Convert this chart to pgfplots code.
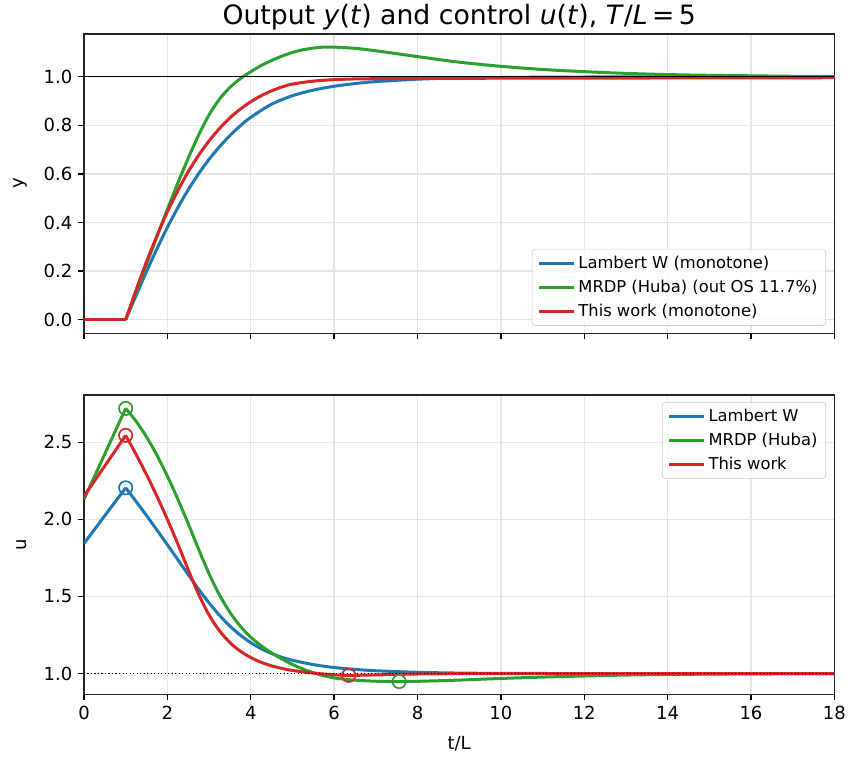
\documentclass[border=0pt]{standalone}
\usepackage{fontspec}
\setmainfont{DejaVu Sans}
\usepackage{pgfplots}
\pgfplotsset{compat=1.18}
\definecolor{tabblue}{HTML}{1F77B4}
\definecolor{tabgreen}{HTML}{2CA02C}
\definecolor{tabred}{HTML}{D62728}
\newcommand{\tickfont}{\fontsize{10.8pt}{12.5pt}\selectfont}
\newcommand{\legfont}{\fontsize{9.8pt}{11.5pt}\selectfont}

\pgfplotsset{
  panel/.style={
    scale only axis, width=450.2pt, height=179.6pt,
    xmin=0, xmax=18, xtick={0,2,...,18},
    tick pos=left, tick align=outside,
    major tick length=3.5pt,
    every tick/.style={black, line width=0.8pt},
    axis line style={line width=0.8pt, black!85},
    grid=major, grid style={black!10, line width=0.8pt},
    tick label style={font=\tickfont},
    label style={font=\tickfont},
    ylabel style={xshift=0pt, yshift=3pt},
    xlabel style={yshift=-3pt},
    /pgf/number format/assume math mode=true,
    legend cell align=left,
    legend image code/.code={\draw[#1] (0pt,0pt) -- (21pt,0pt);},
    legend style={font=\legfont, draw=black!20, rounded corners=2pt,
      fill=white, fill opacity=0.8, text opacity=1,
      inner xsep=3pt, inner ysep=2pt, row sep=1.5pt},
  },
  curve/.style={line width=1.8pt, line join=round, #1},
  dot/.style={only marks, mark=o, mark size=4pt, forget plot,
    mark options={line width=1pt, #1}},
}

\begin{document}
\begin{tikzpicture}
\useasboundingbox (-50.4pt,-257.8pt) rectangle (459.6pt,200pt);

% top panel: output y
\begin{axis}[panel, at={(0pt,0pt)}, anchor=south west,
    ymin=-0.056, ymax=1.176, ytick={0,0.2,...,1.0},
    yticklabel style={/pgf/number format/.cd, fixed, fixed zerofill, precision=1},
    xticklabels={},
    ylabel={y},
    title={Output \textit{y}(\textit{t}) and control \textit{u}(\textit{t}), \textit{T}/\textit{L}\,=\,5},
    title style={font=\fontsize{16pt}{19pt}\selectfont, yshift=-7pt},
    legend style={at={(0.989,0.025)}, anchor=south east}]
  \addplot[curve=tabblue, smooth] coordinates {
    (1,0) (1.25,0.1) (1.5,0.198) (1.75,0.292) (2,0.38) (2.25,0.461) (2.5,0.535)
    (2.75,0.601) (3,0.66) (3.25,0.712) (3.5,0.758) (3.75,0.798) (4,0.833)
    (4.5,0.887) (5,0.922) (5.5,0.945) (6,0.961) (6.5,0.972) (7,0.98) (8,0.99)
    (9,0.995) (10,0.997) (12,0.999) (18,1.0)};
  \addlegendentry{Lambert W (monotone)}
  \addplot[curve=tabgreen, smooth] coordinates {
    (1,0) (1.25,0.115) (1.5,0.229) (1.75,0.342) (2,0.454) (2.25,0.562) (2.5,0.665)
    (2.75,0.76) (3,0.843) (3.25,0.908) (3.5,0.956) (3.75,0.992) (4,1.021)
    (4.25,1.046) (4.5,1.067) (4.75,1.085) (5,1.1) (5.25,1.111) (5.5,1.118)
    (5.75,1.122) (6,1.122) (6.5,1.117) (7,1.107) (7.5,1.095) (8,1.083) (9,1.06)
    (10,1.043) (11,1.03) (12,1.021) (13,1.014) (14,1.009) (15,1.006) (16,1.004)
    (17,1.002) (18,1.001)};
  \addlegendentry{MRDP (Huba) (out OS 11.7\%)}
  \addplot[curve=tabred, smooth] coordinates {
    (1,0) (1.25,0.1225) (1.5,0.239) (1.75,0.346) (2,0.444) (2.25,0.531) (2.5,0.609)
    (2.75,0.677) (3,0.736) (3.25,0.787) (3.5,0.831) (3.75,0.867) (4,0.897)
    (4.25,0.922) (4.5,0.942) (4.75,0.958) (5,0.97) (5.5,0.982) (6,0.988)
    (6.5,0.991) (7,0.992) (8,0.993) (10,0.994) (14,0.995) (18,0.996)};
  \addlegendentry{This work (monotone)}
  \addplot[curve=tabblue, forget plot] coordinates {(0,0) (1,0)};
  \addplot[curve=tabgreen, forget plot] coordinates {(0,0) (1,0)};
  \addplot[curve=tabred, forget plot] coordinates {(0,0) (1,0)};
  \addplot[black, line width=0.8pt, forget plot] coordinates {(0,1) (18,1)};
\end{axis}

% bottom panel: control u
\begin{axis}[panel, at={(0pt,-216.6pt)}, anchor=south west,
    ymin=0.865, ymax=2.807, ytick={1.0,1.5,2.0,2.5},
    yticklabel style={/pgf/number format/.cd, fixed, fixed zerofill, precision=1},
    xlabel={t/L}, ylabel={u},
    legend style={at={(0.989,0.977)}, anchor=north east}]
  \addplot[curve=tabblue, smooth] coordinates {
    (1,2.205) (1.25,2.116) (1.5,2.025) (1.75,1.931) (2,1.836) (2.25,1.739)
    (2.5,1.642) (2.75,1.547) (3,1.458) (3.25,1.378) (3.5,1.308) (3.75,1.249)
    (4,1.2) (4.25,1.161) (4.5,1.13) (4.75,1.105) (5,1.086) (5.5,1.058) (6,1.039)
    (6.5,1.027) (7,1.018) (8,1.008) (9,1.003) (10,1.001) (12,1.0) (18,1.0)};
  \addlegendentry{Lambert W}
  \addplot[curve=tabgreen, smooth] coordinates {
    (1,2.72) (1.25,2.636) (1.5,2.535) (1.75,2.416) (2,2.281) (2.25,2.132)
    (2.5,1.972) (2.75,1.806) (3,1.647) (3.25,1.51) (3.5,1.397) (3.75,1.307)
    (4,1.236) (4.25,1.18) (4.5,1.134) (4.75,1.094) (5,1.059) (5.25,1.029)
    (5.5,1.005) (5.75,0.986) (6,0.972) (6.25,0.963) (6.5,0.957) (7,0.95)
    (7.5,0.948) (8,0.9495) (9,0.9575) (10,0.968) (11,0.977) (12,0.984) (13,0.99)
    (14,0.994) (15,0.996) (16,0.998) (18,1.0)};
  \addlegendentry{MRDP (Huba)}
  \addplot[curve=tabred, smooth] coordinates {
    (1,2.545) (1.25,2.421) (1.5,2.29) (1.75,2.15) (2,2.0) (2.25,1.841) (2.5,1.674)
    (2.75,1.514) (3,1.38) (3.25,1.277) (3.5,1.201) (3.75,1.145) (4,1.104)
    (4.25,1.073) (4.5,1.05) (4.75,1.033) (5,1.02) (5.5,1.003) (6,0.992)
    (6.35,0.988) (7,0.991) (8,0.997) (9,0.999) (10,1.0) (18,1.0)};
  \addlegendentry{This work}
  \addplot[curve=tabblue, forget plot] coordinates {(0,1.844) (1,2.205)};
  \addplot[curve=tabgreen, forget plot] coordinates {(0,2.13) (1,2.72)};
  \addplot[curve=tabred, forget plot] coordinates {(0,2.15) (1,2.545)};
  \addplot[dot=tabblue] coordinates {(1,2.205)};
  \addplot[dot=tabgreen] coordinates {(1,2.72) (7.56,0.948)};
  \addplot[dot=tabred] coordinates {(1,2.545) (6.35,0.988)};
  \addplot[black, line width=0.8pt, dash pattern=on 0.8pt off 1.3pt, forget plot]
    coordinates {(0,1) (18,1)};
\end{axis}
\end{tikzpicture}
\end{document}
